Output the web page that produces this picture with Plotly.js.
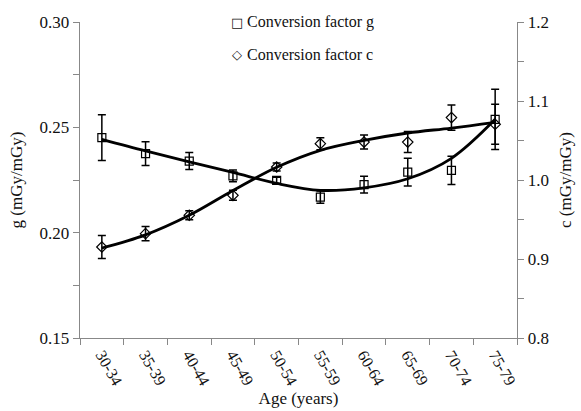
<!DOCTYPE html>
<html>
<head>
<meta charset="utf-8">
<script src="https://cdn.plot.ly/plotly-3.0.1.min.js"></script>
<style>html,body{margin:0;padding:0;background:#fff;}#chart{width:581px;height:411px;}</style>
</head>
<body>
<div id="chart"></div>
<script>
var ageGroups = ["30-34","35-39","40-44","45-49","50-54","55-59","60-64","65-69","70-74","75-79"];
var gValues = [0.2451,0.2375,0.2340,0.2270,0.2248,0.2169,0.2228,0.2287,0.2296,0.2538];
var gErrors = [0.0109,0.0056,0.0040,0.0028,0.0015,0.0029,0.0040,0.0066,0.0067,0.0143];
var gTrend  = [0.2443,0.2388,0.2336,0.2286,0.2234,0.2201,0.2213,0.2256,0.2353,0.2538];
var cValues = [0.9152,0.9321,0.9553,0.9806,1.0164,1.0460,1.0480,1.0480,1.0790,1.0705];
var cErrors = [0.0146,0.0089,0.0057,0.0063,0.0050,0.0076,0.0089,0.0133,0.0160,0.0253];
var cTrend  = [0.9139,0.9306,0.9553,0.9867,1.0161,1.0376,1.0502,1.0595,1.0658,1.0730];
var seriesNames = ["Conversion factor g","Conversion factor c"];
var legendSymbols = ["\u25A1","\u25C7"];

var serif = "Liberation Serif";

var traces = [
  {x: ageGroups, y: gTrend, type: "scatter", mode: "lines", line: {color: "#000", width: 2.8, shape: "spline"}, showlegend: false, hoverinfo: "skip", yaxis: "y"},
  {x: ageGroups, y: cTrend, type: "scatter", mode: "lines", line: {color: "#000", width: 2.8, shape: "spline"}, showlegend: false, hoverinfo: "skip", yaxis: "y2"},
  {x: ageGroups, y: gValues, type: "scatter", mode: "markers", name: seriesNames[0], showlegend: false,
   marker: {symbol: "square-open", size: 8, color: "#000", line: {width: 1.2}},
   error_y: {type: "data", array: gErrors, visible: true, color: "#000", thickness: 1.5, width: 4}, yaxis: "y"},
  {x: ageGroups, y: cValues, type: "scatter", mode: "markers", name: seriesNames[1], showlegend: false,
   marker: {symbol: "diamond-open", size: 8, color: "#000", line: {width: 1.2}},
   error_y: {type: "data", array: cErrors, visible: true, color: "#000", thickness: 1.5, width: 4}, yaxis: "y2"}
];

// legend drawn as text annotations (paper coordinates)
var legendRowsY = [1.0, 0.8987];
var annotations = [];
for (var i = 0; i < seriesNames.length; i++) {
  annotations.push({xref: "paper", yref: "paper", x: 0.359, y: legendRowsY[i], xanchor: "center", yanchor: "middle",
    text: legendSymbols[i], showarrow: false, font: {family: "DejaVu Sans", size: 13, color: "#111"}});
  annotations.push({xref: "paper", yref: "paper", x: 0.378, y: legendRowsY[i], xanchor: "left", yanchor: "middle",
    text: seriesNames[i], showarrow: false, font: {family: serif, size: 16, color: "#111"}});
}

var layout = {
  width: 581, height: 411,
  margin: {l: 80, r: 64, t: 22, b: 73},
  paper_bgcolor: "#fff", plot_bgcolor: "#fff",
  font: {family: serif, size: 16, color: "#111"},
  showlegend: false,
  annotations: annotations,
  xaxis: {
    type: "category", range: [-0.5, 9.5], tickson: "boundaries", ticks: "outside", ticklen: 6, tickcolor: "#888",
    showline: true, linecolor: "#888", linewidth: 1.3, showgrid: false, zeroline: false,
    tickangle: 60, tickfont: {family: serif, size: 16, color: "#111"},
    title: {text: "Age (years)", font: {family: serif, size: 17, color: "#111"}, standoff: 4}
  },
  yaxis: {
    range: [0.15, 0.30], dtick: 0.05, tickformat: ".2f", ticks: "outside", ticklen: 6, tickcolor: "#888",
    minor: {dtick: 0.025, ticks: "outside", ticklen: 6, tickcolor: "#888", showgrid: false},
    showline: true, linecolor: "#888", linewidth: 1.3, showgrid: false, zeroline: false,
    tickfont: {family: serif, size: 17, color: "#111"},
    title: {text: "g (mGy/mGy)", font: {family: serif, size: 17, color: "#111"}, standoff: 12}
  },
  yaxis2: {
    overlaying: "y", side: "right",
    range: [0.8, 1.2], dtick: 0.1, tickformat: ".1f", ticks: "outside", ticklen: 6, tickcolor: "#888",
    minor: {dtick: 0.05, ticks: "outside", ticklen: 6, tickcolor: "#888", showgrid: false},
    showline: true, linecolor: "#888", linewidth: 1.3, showgrid: false, zeroline: false,
    tickfont: {family: serif, size: 17, color: "#111"},
    title: {text: "c (mGy/mGy)", font: {family: serif, size: 17, color: "#111"}, standoff: 11}
  }
};

Plotly.newPlot("chart", traces, layout, {displayModeBar: false, staticPlot: true});
</script>
</body>
</html>
